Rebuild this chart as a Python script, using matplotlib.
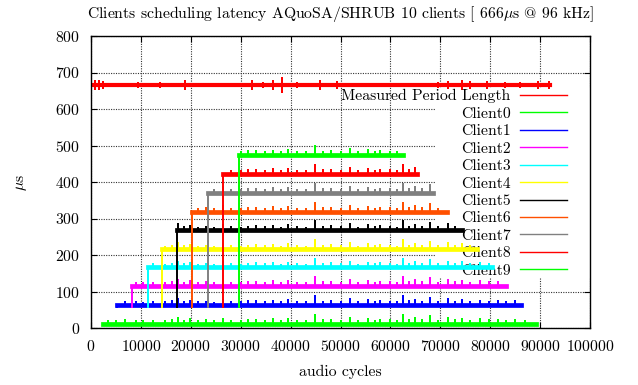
import matplotlib
matplotlib.use("Agg")
import matplotlib.pyplot as plt
from matplotlib.lines import Line2D
from matplotlib.patches import Rectangle

# dados
clientes = ["Client0", "Client1", "Client2", "Client3", "Client4",
            "Client5", "Client6", "Client7", "Client8", "Client9"]
inicio = [2400, 5200, 8200, 11400, 14300, 17200, 20200, 23400, 26500, 29600]
fim = [89200, 86200, 83200, 80300, 77300, 74300, 71300, 68500, 65300, 62500]
latencia = [12, 63, 116, 166, 216, 268, 319, 371, 423, 474]
latencia_inicial = [12, 63, 63, 63, 63, 63, 63, 63, 63, 63]
cores = ["#00ff00", "#0000ff", "#ff00ff", "#00ffff", "#ffff00",
         "#000000", "#ff5000", "#808080", "#ff0000", "#00ff00"]

# picos (ruido) que aparecem alinhados nos clientes
picos_x = [3500, 5000, 6800, 9000, 10500, 12500, 14800, 16200, 17400, 18600,
           19800, 21500, 23000, 24600, 26400, 28000, 30000, 31500, 33000,
           34800, 36500, 38000, 39500, 41200, 43000, 44900, 46500, 48000,
           50000, 51900, 53500, 55500, 57000, 58000, 60000, 61300, 62500,
           63700, 64900, 66400, 67900, 69600, 71500, 73000, 74300, 76000,
           78000, 79800, 81500, 83200, 85000, 87000]
picos_h = [8, 6, 9, 7, 6, 8, 7, 10, 16, 8, 12, 7, 9, 6, 14, 8, 7, 10, 11,
           8, 12, 7, 13, 8, 7, 24, 9, 11, 8, 16, 7, 13, 8, 11, 9, 7, 24,
           10, 15, 9, 20, 8, 16, 9, 14, 8, 12, 9, 11, 8, 10, 8]

# periodo medido
periodo = 666
periodo_inicio = 0
periodo_fim = 92000
periodo_picos_x = [800, 1600, 2400, 9400, 13800, 18800, 32300, 34500, 36500,
                   38300, 41300, 45900, 49300, 69500, 71500, 74300, 75900,
                   79300, 83000, 86000, 89600, 91800]
periodo_picos_h = [10, 12, 8, 6, 6, 11, 10, 6, 11, 19, 6, 10, 9, 6, 8, 11, 8,
                   9, 6, 6, 8, 8]


def serie(x0, x1, nivel, px, ph, simetrico=False):
    xs, ys = [x0], [nivel]
    for p, h in zip(px, ph):
        if x0 < p < x1:
            if simetrico:
                xs += [p, p, p, p]
                ys += [nivel, nivel + h, nivel - h, nivel]
            else:
                xs += [p, p, p]
                ys += [nivel, nivel + h, nivel]
    xs.append(x1)
    ys.append(nivel)
    return xs, ys


tamanho = 11.3
plt.rcParams["font.family"] = ["cmr10", "DejaVu Serif"]
plt.rcParams["mathtext.fontset"] = "cm"
plt.rcParams["axes.formatter.use_mathtext"] = True
plt.rcParams["font.size"] = tamanho

fig = plt.figure(figsize=(6.38, 3.85), dpi=100)
ax = fig.add_axes([91 / 638, 57 / 385, 499 / 638, 292 / 385])

ax.grid(True, color="#333333", linestyle=(0, (1, 1.2)), linewidth=0.8, zorder=0)
ax.set_axisbelow(True)

# fundo branco da legenda (esconde a grade)
ax.add_patch(Rectangle((0.689, 0.171), 0.311, 0.651, transform=ax.transAxes,
                       facecolor="white", edgecolor="none", zorder=1))

xs, ys = serie(periodo_inicio, periodo_fim, periodo, [], [])
ax.plot(xs, ys, color="#ff0000", linewidth=3.0, zorder=2)
xs, ys = serie(periodo_inicio, periodo_fim, periodo, periodo_picos_x,
               periodo_picos_h, simetrico=True)
ax.plot(xs, ys, color="#ff0000", linewidth=1.4, zorder=2)

for i in range(len(clientes)):
    xs, ys = serie(inicio[i], fim[i], latencia[i], [], [])
    ax.plot(xs, ys, color=cores[i], linewidth=3.4, zorder=3)
    xs, ys = serie(inicio[i], fim[i], latencia[i], picos_x, picos_h)
    ax.plot(xs, ys, color=cores[i], linewidth=1.3, zorder=3)
    ax.plot([inicio[i], inicio[i]], [latencia_inicial[i] - 5, latencia[i]],
            color=cores[i], linewidth=1.4, zorder=3)

ax.set_xlim(0, 100000)
ax.set_ylim(0, 800)
ax.set_xticks(range(0, 100001, 10000))
ax.set_yticks(range(0, 801, 100))
ax.tick_params(direction="in", top=True, right=True, length=4, width=0.8,
               pad=8, labelsize=tamanho)
for s in ax.spines.values():
    s.set_linewidth(1.0)

ax.set_title(r"Clients scheduling latency AQuoSA/SHRUB 10 clients [ 666$\mu$s @ 96 kHz]",
             fontsize=tamanho, pad=13)
ax.set_xlabel("audio cycles", labelpad=8)
ax.set_ylabel(r"$\mu$s", labelpad=19)

handles = [Line2D([], [], color="#ff0000", linewidth=1.0)]
handles += [Line2D([], [], color=c, linewidth=1.0) for c in cores]
rotulos = ["Measured Period Length"] + clientes
leg = ax.legend(handles, rotulos, loc="upper right", bbox_to_anchor=(0.954, 0.818),
                frameon=False, markerfirst=False, handlelength=3.0,
                handletextpad=0.6, labelspacing=0.22, borderpad=0,
                borderaxespad=0, fontsize=tamanho)
leg.set_zorder(2.5)

fig.savefig("out.png", dpi=100)
plt.close(fig)
